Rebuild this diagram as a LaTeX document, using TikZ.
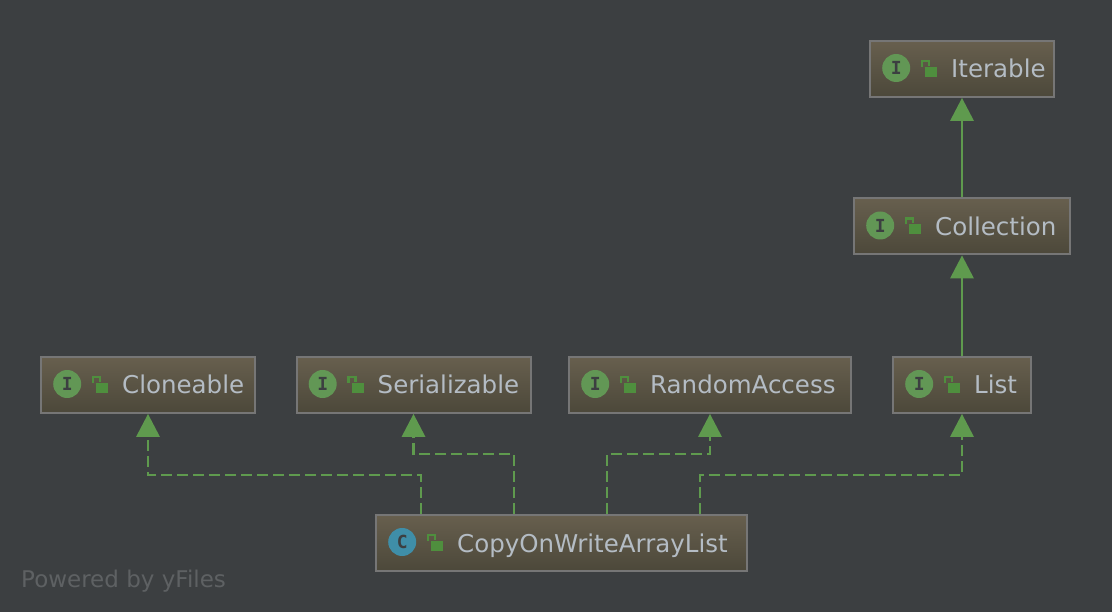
\documentclass[tikz,border=0pt]{standalone}
\usepackage{fontspec}
\setmainfont{DejaVu Sans}
\newfontfamily\badgefont{DejaVu Sans Mono}
\usepackage{tikz}
\usetikzlibrary{arrows.meta, positioning}
\definecolor{canvas}{HTML}{3C3F41}
\definecolor{edge}{HTML}{5F9A4E}
\definecolor{frame}{HTML}{767676}
\definecolor{boxtop}{HTML}{675F4E}
\definecolor{boxbottom}{HTML}{4C483A}
\definecolor{interfacegreen}{HTML}{629755}
\definecolor{classblue}{HTML}{3F8EA8}
\definecolor{lockgreen}{HTML}{4F8F3E}
\definecolor{caption}{HTML}{5E6163}
\definecolor{title}{HTML}{B4BCC4}
\tikzstyle{block} = [draw=frame, line width=2pt, rectangle, top color=boxtop, bottom color=boxbottom, minimum height=56pt, inner sep=0pt]
\tikzstyle{badge} = [circle, minimum size=28pt, inner sep=0pt, text=canvas, font=\badgefont\bfseries\fontsize{18pt}{18pt}\selectfont]
\tikzstyle{interface} = [badge, fill=interfacegreen]
\tikzstyle{class} = [badge, fill=classblue]
\tikzstyle{lock} = [rectangle, fill=lockgreen, minimum width=12pt, minimum height=10pt, inner sep=0pt]
\tikzstyle{shackle} = [draw=lockgreen, line width=2.5pt]
\tikzstyle{title} = [text=title, inner sep=0pt, text height=22pt, text depth=4pt, font=\fontsize{24.5pt}{26pt}\selectfont]
\tikzstyle{path} = [-{Triangle[length=23pt, width=24pt, line width=0pt]}, edge, line width=2.4pt]
\tikzstyle{realize} = [path, dash pattern=on 11pt off 5pt]

\begin{document}
\begin{tikzpicture}[x=1pt, y=-1pt]
    \fill [canvas] (0,0) rectangle (1112,612);

    \node (iterable) [block, minimum width=184pt] at (962,69) {};
    \node (collection) [block, minimum width=216pt] at (962,226.5) {};
    \node (list) [block, minimum width=138pt] at (962,385) {};
    \node (randomaccess) [block, minimum width=282pt] at (710,385) {};
    \node (serializable) [block, minimum width=234pt] at (413.5,385) {};
    \node (cloneable) [block, minimum width=214pt] at (148,385) {};
    \node (copy) [block, minimum width=371pt] at (561.5,543) {};

    % Badges, locks and names.
    \foreach \n/\t/\k/\c in {iterable/Iterable/interface/I, collection/Collection/interface/I, list/List/interface/I, randomaccess/RandomAccess/interface/I, serializable/Serializable/interface/I, cloneable/Cloneable/interface/I, copy/CopyOnWriteArrayList/class/C} {
        \node (\n badge) [\k, right=13pt of \n.west, yshift=1pt] {\c};
        \node (\n lock) [lock, right=56pt of \n.west, yshift=-3pt] {};
        \node (\n title) [title, right=82pt of \n.west] {\t};
        \draw [shackle] ([xshift=-3pt]\n lock.north west) -- ++(0,-6) -- ++(7,0) -- ++(0,5);
    }

    \node (powered) [anchor=base west, inner sep=0pt, text=caption, font=\fontsize{23pt}{26pt}\selectfont, text depth=0pt] at (21,587) {Powered by yFiles};

    % Arrows.
    \draw [path] (collection) -- (iterable);
    \draw [path] (list) -- (collection);
    \draw [realize] ([xshift=-140.5pt]copy.north) -- ++(0,-39) -| (cloneable);
    \draw [realize] ([xshift=-47.5pt]copy.north) -- ++(0,-60) -| (serializable);
    \draw [realize] ([xshift=45.5pt]copy.north) -- ++(0,-60) -| (randomaccess);
    \draw [realize] ([xshift=138.5pt]copy.north) -- ++(0,-39) -| (list);
\end{tikzpicture}
\end{document}
